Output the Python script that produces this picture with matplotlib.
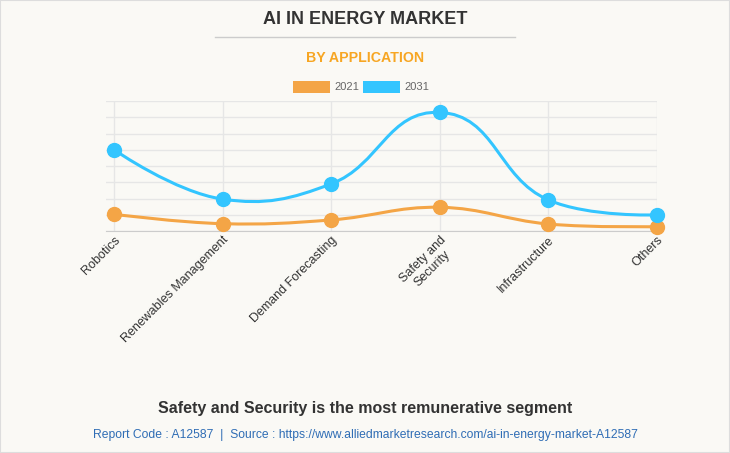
import numpy as np
import matplotlib.pyplot as plt
from matplotlib.path import Path
from matplotlib.patches import PathPatch, Rectangle

categories = ["Robotics", "Renewables Management", "Demand Forecasting",
              "Safety and\nSecurity", "Infrastructure", "Others"]
values_2021 = [1.03, 0.45, 0.68, 1.46, 0.43, 0.27]
values_2031 = [5.0, 1.96, 2.9, 7.3, 1.91, 0.99]

orange = "#F4A546"
blue = "#33C5FF"
bg = "#FAF9F5"

plt.rcParams['font.family'] = ['Liberation Sans', 'DejaVu Sans']

fig = plt.figure(figsize=(7.3, 4.53), dpi=100, facecolor=bg)
W, H = 730, 453
ax = fig.add_axes([106 / W, 1 - 231 / H, (657 - 106) / W, (231 - 101) / H])
ax.set_facecolor(bg)
x = np.arange(len(categories))
ax.set_xlim(-0.074, 5.0)
ax.set_ylim(0, 8)
ax.set_yticks(np.arange(0, 9, 1))
ax.set_yticklabels([])
ax.tick_params(axis='y', length=0)
ax.set_xticks(x)
ax.tick_params(axis='x', length=0, pad=2)
ax.set_xticklabels(categories, rotation=45, ha='right', va='top',
                   rotation_mode='anchor', fontsize=9, color='#333333',
                   multialignment='center')
ax.grid(True, color='#E6E6E6', linewidth=1)
ax.set_axisbelow(True)
for s in ['top', 'right', 'left']:
    ax.spines[s].set_visible(False)
ax.spines['bottom'].set_color('#CCCCCC')
fig.canvas.draw()


def spline_path(xs, ys):
    # highcharts-like spline computed in display space
    pts = ax.transData.transform(np.column_stack([xs, ys]))
    sm = 1.5
    n = len(pts)
    left = [None] * n
    right = [None] * n
    for i in range(1, n - 1):
        px, py = pts[i]
        lx, ly = pts[i - 1]
        nx, ny = pts[i + 1]
        lcx, lcy = (sm * px + lx) / (sm + 1), (sm * py + ly) / (sm + 1)
        rcx, rcy = (sm * px + nx) / (sm + 1), (sm * py + ny) / (sm + 1)
        ld = np.hypot(lcx - px, lcy - py)
        rd = np.hypot(rcx - px, rcy - py)
        la = np.arctan2(lcy - py, lcx - px)
        ra = np.arctan2(rcy - py, rcx - px)
        ja = np.pi / 2 + (la + ra) / 2
        if abs(la - ja) > np.pi / 2:
            ja -= np.pi
        left[i] = (px + np.cos(ja) * ld, py + np.sin(ja) * ld)
        right[i] = (px + np.cos(np.pi + ja) * rd, py + np.sin(np.pi + ja) * rd)
    verts = [tuple(pts[0])]
    codes = [Path.MOVETO]
    for i in range(1, n):
        c1 = right[i - 1] if right[i - 1] is not None else tuple(pts[i - 1])
        c2 = left[i] if left[i] is not None else tuple(pts[i])
        verts += [c1, c2, tuple(pts[i])]
        codes += [Path.CURVE4] * 3
    data = ax.transData.inverted().transform(np.array(verts))
    return Path(data, codes)


for vals, col in [(values_2021, orange), (values_2031, blue)]:
    ax.add_patch(PathPatch(spline_path(x, vals), facecolor='none',
                           edgecolor=col, linewidth=2.2, clip_on=False, zorder=3))
    ax.plot(x, vals, 'o', color=col, markersize=10, clip_on=False, zorder=4)

# titles
fig.text(0.5, 1 - 20 / H, "AI IN ENERGY MARKET", ha='center', va='center',
         fontsize=13, fontweight='bold', color='#333333')
fig.add_artist(plt.Line2D([215 / W, 515 / W], [1 - 37 / H, 1 - 37 / H],
                          color='#CCCCCC', linewidth=1))
fig.text(0.5, 1 - 58 / H, "BY APPLICATION", ha='center', va='center',
         fontsize=10.2, fontweight='bold', color='#F7A623')

# legend
for x0, col, lab in [(293, orange, "2021"), (363, blue, "2031")]:
    fig.add_artist(Rectangle((x0 / W, 1 - 93 / H), 37 / W, 12 / H,
                             facecolor=col, edgecolor='none'))
    fig.text((x0 + 41) / W, 1 - 87 / H, lab, ha='left', va='center',
             fontsize=8, color='#666666')

fig.text(0.5, 1 - 408 / H, "Safety and Security is the most remunerative segment",
         ha='center', va='center', fontsize=11.5, fontweight='bold', color='#333333')
fig.text(0.5, 1 - 435 / H,
         "Report Code : A12587  |  Source : https://www.alliedmarketresearch.com/ai-in-energy-market-A12587",
         ha='center', va='center', fontsize=8.7, color='#2F6DB5')

fig.add_artist(Rectangle((0, 0), 1, 1, transform=fig.transFigure,
                         facecolor='none', edgecolor='#DDDDDD', linewidth=1.5))

fig.savefig("out.png", dpi=100, facecolor=bg)
